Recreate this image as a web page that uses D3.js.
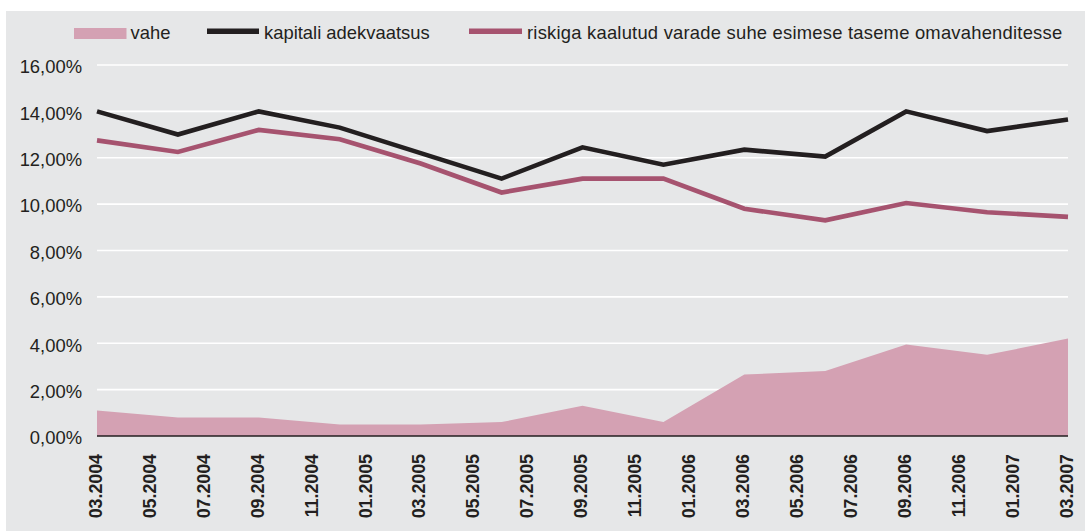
<!DOCTYPE html>
<html>
<head>
<meta charset="utf-8">
<script src="https://cdn.jsdelivr.net/npm/d3@7"></script>
<style>
  html, body { margin: 0; padding: 0; background: #ffffff; }
  svg { display: block; }
  text { font-family: "Liberation Sans", Arial, Helvetica, sans-serif; fill: #231f20; }
</style>
</head>
<body>
<svg id="chart" width="1085" height="531"></svg>
<script>
// Quarterly observation periods
const periods = ["03.2004","06.2004","09.2004","12.2004","03.2005","06.2005","09.2005",
                 "12.2005","03.2006","06.2006","09.2006","12.2006","03.2007"];
// Capital adequacy, %
const kapitaliAdekvaatsus = [14.0, 13.0, 14.0, 13.3, 12.2, 11.1, 12.45, 11.7, 12.35, 12.05, 14.0, 13.15, 13.65];
// Risk-weighted assets relative to Tier 1 own funds, %
const riskigaKaalutud = [12.75, 12.25, 13.2, 12.8, 11.75, 10.5, 11.1, 11.1, 9.8, 9.3, 10.05, 9.65, 9.45];
// Gap between the two, %
const vahe = [1.1, 0.8, 0.8, 0.5, 0.5, 0.6, 1.3, 0.6, 2.65, 2.8, 3.95, 3.5, 4.2];
// Axis tick labels
const xTickLabels = ["03.2004","05.2004","07.2004","09.2004","11.2004","01.2005","03.2005",
                     "05.2005","07.2005","09.2005","11.2005","01.2006","03.2006","05.2006",
                     "07.2006","09.2006","11.2006","01.2007","03.2007"];
const yTicks = [0, 2, 4, 6, 8, 10, 12, 14, 16];
const legendLabels = ["vahe", "kapitali adekvaatsus", "riskiga kaalutud varade suhe esimese taseme omavahenditesse"];

const colors = { area: "#d4a1b3", capital: "#231f20", risk: "#a6536f", bg: "#e6e7e8" };

// month index counted from 03.2004
const monthIndex = s => { const [m, y] = s.split(".").map(Number); return (y - 2004) * 12 + (m - 3); };

const svg = d3.select("#chart");
const W = 1085, H = 531;
const plot = { left: 97, right: 1068, top: 65, bottom: 436 };
const fs = 18.4;

svg.append("rect").attr("x", 6).attr("y", 11).attr("width", W - 6).attr("height", H - 11).attr("fill", colors.bg);

const x = d3.scaleLinear().domain([0, 36]).range([plot.left, plot.right]);
const y = d3.scaleLinear().domain([0, 16]).range([plot.bottom, plot.top]);

// horizontal gridlines
svg.append("g").selectAll("line").data(yTicks.filter(d => d > 0)).join("line")
  .attr("x1", plot.left).attr("x2", plot.right)
  .attr("y1", d => y(d)).attr("y2", d => y(d))
  .attr("stroke", "#ffffff").attr("stroke-width", 1.6);

// y axis labels
const fmt = d => d.toFixed(2).replace(".", ",") + "%";
svg.append("g").selectAll("text").data(yTicks).join("text")
  .attr("x", 82).attr("y", d => y(d)).attr("dy", "0.45em")
  .attr("text-anchor", "end").attr("font-size", fs)
  .text(fmt);

const data = periods.map((p, i) => ({ m: monthIndex(p), cap: kapitaliAdekvaatsus[i], risk: riskigaKaalutud[i], gap: vahe[i] }));

// gap area
svg.append("path").datum(data)
  .attr("fill", colors.area)
  .attr("d", d3.area().x(d => x(d.m)).y0(y(0)).y1(d => y(d.gap)));

// zero baseline
svg.append("line").attr("x1", plot.left).attr("x2", plot.right)
  .attr("y1", y(0)).attr("y2", y(0)).attr("stroke", "#231f20").attr("stroke-width", 1.5);

// lines
const lineGen = key => d3.line().x(d => x(d.m)).y(d => y(d[key]));
svg.append("path").datum(data).attr("fill", "none").attr("stroke", colors.risk)
  .attr("stroke-width", 4.6).attr("stroke-linejoin", "miter").attr("d", lineGen("risk"));
svg.append("path").datum(data).attr("fill", "none").attr("stroke", colors.capital)
  .attr("stroke-width", 4.6).attr("stroke-linejoin", "miter").attr("d", lineGen("cap"));

// x axis labels, rotated
svg.append("g").selectAll("text").data(xTickLabels).join("text")
  .attr("transform", d => `translate(${x(monthIndex(d))},454) rotate(-90)`)
  .attr("text-anchor", "end").attr("dy", "0.27em")
  .attr("font-size", 17.8).attr("font-weight", "bold")
  .text(d => d);

// legend
const lg = svg.append("g");
lg.append("rect").attr("x", 74).attr("y", 28).attr("width", 52.5).attr("height", 11).attr("fill", colors.area);
lg.append("text").attr("x", 130.5).attr("y", 38.5).attr("font-size", fs).text(legendLabels[0]);
lg.append("rect").attr("x", 207).attr("y", 28.5).attr("width", 52).attr("height", 5.5).attr("fill", colors.capital);
lg.append("text").attr("x", 264).attr("y", 38.5).attr("font-size", fs).text(legendLabels[1]);
lg.append("rect").attr("x", 469).attr("y", 28.5).attr("width", 53).attr("height", 5.5).attr("fill", colors.risk);
lg.append("text").attr("x", 527).attr("y", 38.5).attr("font-size", fs)
  .attr("letter-spacing", 0.22).text(legendLabels[2]);
</script>
</body>
</html>
